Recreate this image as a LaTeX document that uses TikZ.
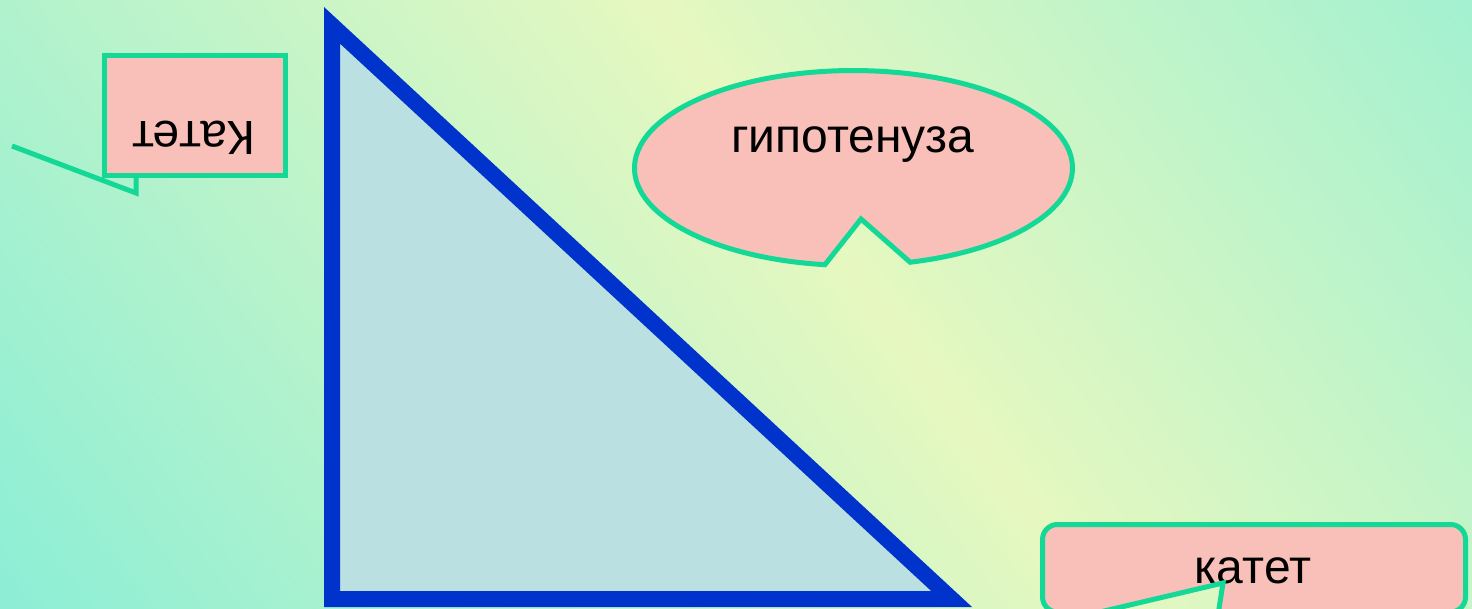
\documentclass[tikz,border=0pt]{standalone}
\usepackage{fontspec}
\setmainfont{Liberation Sans}
\definecolor{aq}{RGB}{138,238,214}
\definecolor{yl}{RGB}{230,248,192}
\definecolor{calfill}{RGB}{248,192,184}
\definecolor{calline}{RGB}{20,216,150}
\definecolor{trifill}{RGB}{186,224,226}
\definecolor{triline}{RGB}{0,51,204}
\tikzset{
  calloutfill/.style={fill=calfill},
  calloutline/.style={draw=calline, line width=5pt, line join=miter},
  lbl/.style={font=\fontsize{48}{56}\selectfont, text=black, inner sep=0pt},
}
\begin{document}
\begin{tikzpicture}[x=1pt,y=-1pt]
\useasboundingbox (0,0) rectangle (1472,609);
% background
\begin{scope}
  \clip (0,0) rectangle (1472,609);
  \begin{scope}[transform canvas={rotate around={36.5:(875,304)}}]
    \shade[left color=aq, right color=aq, middle color=yl] (-25,-900) rectangle (1775,1500);
  \end{scope}
\end{scope}
% triangle
\coordinate (A) at (332,25.3);
\coordinate (B) at (332,599);
\coordinate (C) at (951.6,599);
\draw[fill=trifill, draw=triline, line width=16pt, line join=miter] (A) -- (B) -- (C) -- cycle;
% upper-left callout (rotated)
\coordinate (r1) at (104.5,55.5);
\coordinate (r2) at (285.5,175.5);
\fill[calloutfill] (r1) rectangle (r2);
\node[lbl, rotate=180, anchor=base] (katet1) at (194,122) {Катет};
\draw[calloutline] (r1) rectangle (r2);
\coordinate (p1) at (136,175.5);
\coordinate (p2) at (136,193);
\coordinate (t1) at (12,146);
\draw[calloutline] (p1) -- (p2) -- (t1);
% ellipse callout
\coordinate (e1) at (824.9,264.7);
\coordinate (et) at (861,219);
\fill[calloutfill] (e1) arc[start angle=97.5, end angle=435, x radius=219, y radius=97.5] -- (et) -- cycle;
\node[lbl, anchor=base] (hyp) at (853,153) {гипотенуза};
\draw[calloutline] (e1) arc[start angle=97.5, end angle=435, x radius=219, y radius=97.5] -- (et) -- cycle;
% bottom-right callout
\coordinate (bt) at (1223,583);
\coordinate (b1) at (1218.5,612);
\coordinate (b2) at (1100,612);
\fill[calloutfill] (bt) -- (b1) [rounded corners=15] -- (1465.5,612) -- (1465.5,524.5) -- (1042.5,524.5) -- (1042.5,612) [sharp corners] -- (b2) -- cycle;
\node[lbl, anchor=base] (katet2) at (1253,583) {катет};
\draw[calloutline] (bt) -- (b1) [rounded corners=15] -- (1465.5,612) -- (1465.5,524.5) -- (1042.5,524.5) -- (1042.5,612) [sharp corners] -- (b2) -- cycle;
\end{tikzpicture}
\end{document}
